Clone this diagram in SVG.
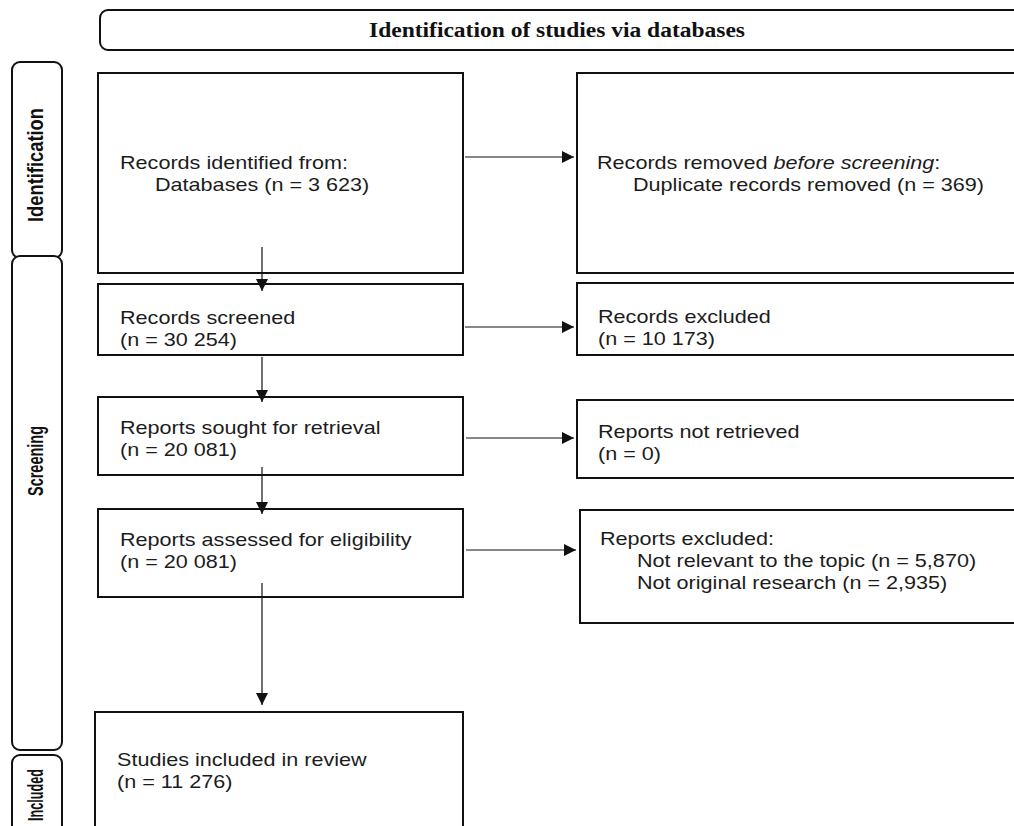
<svg xmlns="http://www.w3.org/2000/svg" width="1014" height="826" viewBox="0 0 1014 826">
  <style>
    .box { fill: #fff; stroke: #111; stroke-width: 2; }
    .tab { fill: #fff; stroke: #111; stroke-width: 2; }
    .t { font-family: "Liberation Sans", Arial, sans-serif; font-size: 18px; fill: #1c1c1c; }
    .vl { font-family: "Liberation Sans", Arial, sans-serif; font-size: 17px; font-weight: bold; fill: #111; }
    .hd { font-family: "Liberation Serif", "Times New Roman", serif; font-size: 20px; font-weight: bold; fill: #111; }
    .link { stroke: #111; stroke-width: 1.2; fill: none; marker-end: url(#arrow); }
  </style>
  <defs>
    <marker id="arrow" markerUnits="userSpaceOnUse" markerWidth="13" markerHeight="12" refX="12" refY="6" orient="auto">
      <path d="M0,0 L12,6 L0,12 z" fill="#111"/>
    </marker>
  </defs>
  <rect width="1014" height="826" fill="#fff"/>

  <!-- header banner -->
  <g id="header">
    <rect class="tab" x="100" y="10" width="940" height="40" rx="8"/>
    <text class="hd" x="557" y="37" text-anchor="middle" textLength="376" lengthAdjust="spacingAndGlyphs">Identification of studies via databases</text>
  </g>

  <!-- phase tabs -->
  <g id="tab-identification">
    <rect class="tab" x="12" y="62" width="50" height="196" rx="8"/>
    <text class="vl" transform="translate(43 165) rotate(-90) scale(1 1.3)" text-anchor="middle" textLength="114" lengthAdjust="spacingAndGlyphs">Identification</text>
  </g>
  <g id="tab-screening">
    <rect class="tab" x="12" y="256" width="50" height="494" rx="8"/>
    <text class="vl" transform="translate(43 461) rotate(-90) scale(1 1.3)" text-anchor="middle" textLength="70" lengthAdjust="spacingAndGlyphs">Screening</text>
  </g>
  <g id="tab-included">
    <rect class="tab" x="12" y="755" width="50" height="90" rx="8"/>
    <text class="vl" transform="translate(43 795) rotate(-90) scale(1 1.3)" text-anchor="middle" textLength="52" lengthAdjust="spacingAndGlyphs">Included</text>
  </g>

  <!-- flow boxes -->
  <g id="records-identified">
    <rect class="box" x="98" y="73" width="365" height="200"/>
    <text class="t" transform="translate(120 169) scale(1.2 1)">Records identified from:</text>
    <text class="t" transform="translate(155 191) scale(1.2 1)">Databases (n = 3 623)</text>
  </g>
  <g id="records-removed">
    <rect class="box" x="577" y="73" width="460" height="200"/>
    <text class="t" transform="translate(597 169) scale(1.2 1)">Records removed <tspan font-style="italic">before screening</tspan>:</text>
    <text class="t" transform="translate(633 191) scale(1.2 1)">Duplicate records removed (n = 369)</text>
  </g>
  <g id="records-screened">
    <rect class="box" x="98" y="284" width="365" height="71"/>
    <text class="t" transform="translate(120 324) scale(1.2 1)">Records screened</text>
    <text class="t" transform="translate(120 346) scale(1.2 1)">(n = 30 254)</text>
  </g>
  <g id="records-excluded">
    <rect class="box" x="577" y="283" width="460" height="72"/>
    <text class="t" transform="translate(598 323) scale(1.2 1)">Records excluded</text>
    <text class="t" transform="translate(598 345) scale(1.2 1)">(n = 10 173)</text>
  </g>
  <g id="reports-sought">
    <rect class="box" x="98" y="397" width="365" height="78"/>
    <text class="t" transform="translate(120 434) scale(1.2 1)">Reports sought for retrieval</text>
    <text class="t" transform="translate(120 456) scale(1.2 1)">(n = 20 081)</text>
  </g>
  <g id="reports-not-retrieved">
    <rect class="box" x="577" y="400" width="460" height="78"/>
    <text class="t" transform="translate(598 438) scale(1.2 1)">Reports not retrieved</text>
    <text class="t" transform="translate(598 460) scale(1.2 1)">(n = 0)</text>
  </g>
  <g id="reports-assessed">
    <rect class="box" x="98" y="509" width="365" height="88"/>
    <text class="t" transform="translate(120 546) scale(1.2 1)">Reports assessed for eligibility</text>
    <text class="t" transform="translate(120 568) scale(1.2 1)">(n = 20 081)</text>
  </g>
  <g id="reports-excluded">
    <rect class="box" x="580" y="510" width="460" height="113"/>
    <text class="t" transform="translate(600 545) scale(1.2 1)">Reports excluded:</text>
    <text class="t" transform="translate(637 567) scale(1.2 1)">Not relevant to the topic (n = 5,870)</text>
    <text class="t" transform="translate(637 589) scale(1.2 1)">Not original research (n = 2,935)</text>
  </g>
  <g id="studies-included">
    <rect class="box" x="95" y="712" width="368" height="130"/>
    <text class="t" transform="translate(117 766) scale(1.2 1)">Studies included in review</text>
    <text class="t" transform="translate(117 788) scale(1.2 1)">(n = 11 276)</text>
  </g>

  <!-- connectors -->
  <g id="connectors">
    <line class="link" x1="465" y1="157" x2="574" y2="157"/>
    <line class="link" x1="262" y1="247" x2="262" y2="291"/>
    <line class="link" x1="465" y1="327" x2="574" y2="327"/>
    <line class="link" x1="262" y1="357" x2="262" y2="402"/>
    <line class="link" x1="466" y1="438" x2="574" y2="438"/>
    <line class="link" x1="262" y1="467" x2="262" y2="514"/>
    <line class="link" x1="466" y1="550" x2="576" y2="550"/>
    <line class="link" x1="262" y1="583" x2="262" y2="705"/>
  </g>
</svg>
